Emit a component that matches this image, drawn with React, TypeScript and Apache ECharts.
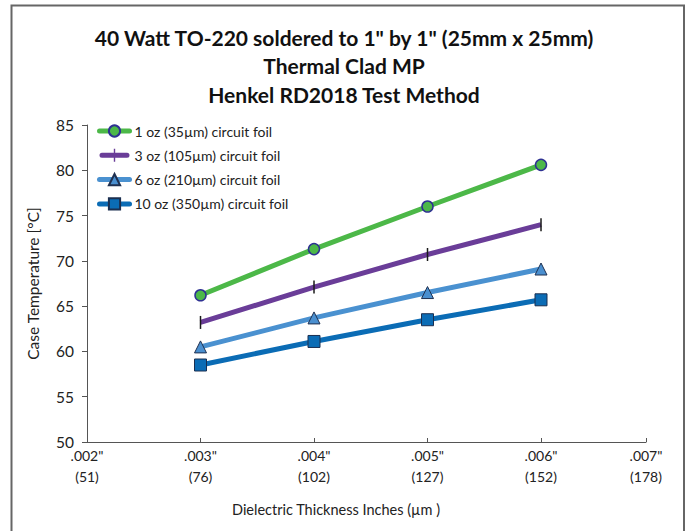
import React, { useEffect, useRef } from "react";
import * as echarts from "echarts";

const titleLines = [
  '40 Watt TO-220 soldered to 1" by 1" (25mm x 25mm)',
  "Thermal Clad MP",
  "Henkel RD2018 Test Method",
];
const xTickValues = [0.002, 0.003, 0.004, 0.005, 0.006, 0.006925];
const xTickInch = ['.002"', '.003"', '.004"', '.005"', '.006"', '.007"'];
const xTickUm = ["(51)", "(76)", "(102)", "(127)", "(152)", "(178)"];
const thickness = [0.003, 0.004, 0.005, 0.006];
const seriesNames = [
  "1 oz (35µm) circuit foil",
  "3 oz (105µm) circuit foil",
  "6 oz (210µm) circuit foil",
  "10 oz (350µm) circuit foil",
];
const oz1 = [66.2, 71.3, 76.0, 80.6];
const oz3 = [63.2, 67.1, 70.7, 74.0];
const oz6 = [60.5, 63.7, 66.5, 69.1];
const oz10 = [58.5, 61.1, 63.5, 65.7];
const xName = "Dielectric Thickness Inches (µm )";
const yName = "Case Temperature [°C]";

const FONT = "Lato, 'Noto Sans', sans-serif";
const PURPLE = "#6a3d98";

function labelFor(v: number) {
  let best = 0;
  let bd = Infinity;
  xTickValues.forEach((t, i) => {
    const d = Math.abs(t - v);
    if (d < bd) {
      bd = d;
      best = i;
    }
  });
  return xTickInch[best] + "\n" + xTickUm[best];
}

export default function App() {
  const ref = useRef<HTMLDivElement>(null);
  useEffect(() => {
    if (!ref.current) return;
    const chart = echarts.init(ref.current, undefined, { renderer: "svg" });
    const mk = (vals: number[]) => thickness.map((x, i) => [x, vals[i]]);
    chart.setOption({
      animation: false,
      backgroundColor: "#ffffff",
      textStyle: { fontFamily: FONT },
      title: {
        text: titleLines.join("\n"),
        left: "center",
        top: 18,
        textStyle: {
          fontFamily: FONT,
          fontSize: 21,
          fontWeight: "bold",
          color: "#111111",
          lineHeight: 28.5,
        },
      },
      graphic: [
        {
          type: "rect",
          shape: { x: 11.5, y: 5.5, width: 672.5, height: 560 },
          style: { fill: "none", stroke: "#666666", lineWidth: 2 },
          silent: true,
        },
        {
          type: "text",
          left: 232,
          top: 502,
          style: {
            text: xName,
            fontFamily: FONT,
            fontSize: 14.5,
            fill: "#222222",
          },
        },
      ],
      legend: {
        orient: "vertical",
        left: 97,
        top: 124,
        padding: 0,
        itemWidth: 30,
        itemHeight: 14,
        itemGap: 10.3,
        lineStyle: { width: 5, cap: "round" },
        textStyle: { fontFamily: FONT, fontSize: 14, color: "#222222" },
        data: [
          { name: seriesNames[0] },
          {
            name: seriesNames[1],
            icon:
              "path://M2.5,4.5 H27.5 A2.5,2.5 0 0 1 27.5,9.5 H2.5 A2.5,2.5 0 0 1 2.5,4.5 Z M14.3,0.5 H15.7 V13.5 H14.3 Z",
            itemStyle: { color: PURPLE, borderWidth: 0 },
          },
          { name: seriesNames[2] },
          { name: seriesNames[3] },
        ],
      },
      grid: { left: 87, right: 42, top: 125, bottom: 89 },
      xAxis: {
        type: "value",
        min: 0.002,
        max: 0.006925,
        axisLine: { lineStyle: { color: "#555555", width: 1 } },
        axisTick: {
          inside: true,
          length: 4,
          customValues: xTickValues,
          lineStyle: { color: "#555555" },
        },
        axisLabel: {
          customValues: xTickValues,
          formatter: (v: number) => labelFor(v),
          fontFamily: FONT,
          fontSize: 14,
          lineHeight: 21,
          color: "#222222",
          margin: 3,
        },
        splitLine: { show: false },
      },
      yAxis: {
        type: "value",
        min: 50,
        max: 85,
        interval: 5,
        name: yName,
        nameLocation: "middle",
        nameGap: 46,
        nameTextStyle: { fontFamily: FONT, fontSize: 15.5, color: "#222222" },
        axisLine: { show: true, lineStyle: { color: "#555555", width: 1 } },
        axisTick: { show: true, length: 5, lineStyle: { color: "#555555" } },
        axisLabel: {
          fontFamily: FONT,
          fontSize: 15.5,
          color: "#222222",
          margin: 13,
        },
        splitLine: { show: false },
      },
      series: [
        {
          name: seriesNames[0],
          type: "line",
          data: mk(oz1),
          symbol: "circle",
          symbolSize: 11,
          lineStyle: { color: "#4cb848", width: 5 },
          itemStyle: { color: "#4cb848", borderColor: "#2e3192", borderWidth: 1.5 },
          z: 5,
        },
        {
          name: seriesNames[1],
          type: "line",
          data: mk(oz3),
          symbol: "rect",
          symbolSize: [1.5, 13],
          lineStyle: { color: PURPLE, width: 5 },
          itemStyle: { color: "#1a1a1a", borderWidth: 0 },
          z: 4,
        },
        {
          name: seriesNames[2],
          type: "line",
          data: mk(oz6),
          symbol: "triangle",
          symbolSize: 12,
          lineStyle: { color: "#4a91d0", width: 5 },
          itemStyle: { color: "#4a8fcf", borderColor: "#1f3050", borderWidth: 1 },
          z: 3,
        },
        {
          name: seriesNames[3],
          type: "line",
          data: mk(oz10),
          symbol: "rect",
          symbolSize: 12,
          lineStyle: { color: "#0b6cb5", width: 5 },
          itemStyle: { color: "#0b6cb5", borderColor: "#1b2f50", borderWidth: 1 },
          z: 2,
        },
      ],
    });
    return () => chart.dispose();
  }, []);
  return (
    <div
      ref={ref}
      style={{ position: "fixed", left: 0, top: 0, width: 688, height: 531 }}
    />
  );
}
